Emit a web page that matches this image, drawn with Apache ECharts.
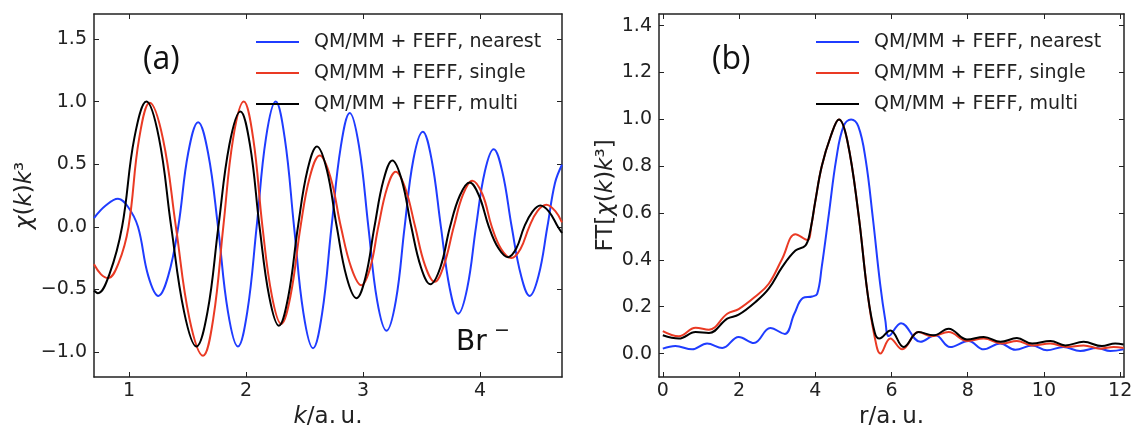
<!DOCTYPE html>
<html>
<head>
<meta charset="utf-8">
<script src="https://cdn.jsdelivr.net/npm/echarts@6/dist/echarts.min.js"></script>
<style>
  html, body { margin: 0; padding: 0; background: #fff; }
  #main { width: 1131px; height: 426px; }
</style>
</head>
<body>
<div id="main"></div>
<script>
// series names + colours (same in both panels)
const names = ['QM/MM + FEFF, nearest', 'QM/MM + FEFF, single', 'QM/MM + FEFF, multi'];
const colors = ['#1f3cff', '#ea3a24', '#000000'];

// ---- panel (a): chi(k) k^3 vs k ----
const aNearestK = [0.70, 0.80, 0.905, 0.99, 1.076, 1.163, 1.25, 1.335, 1.42, 1.505, 1.59, 1.675, 1.76, 1.845, 1.93, 2.01, 2.09, 2.17, 2.253, 2.33, 2.41, 2.49, 2.572, 2.65, 2.73, 2.81, 2.886, 2.965, 3.045, 3.12, 3.20, 3.28, 3.355, 3.43, 3.51, 3.585, 3.665, 3.74, 3.813, 3.89, 3.965, 4.04, 4.116, 4.19, 4.27, 4.35, 4.424, 4.50, 4.575, 4.64, 4.70];
const aNearestV = [0.07, 0.17, 0.224, 0.16, 0, -0.39, -0.552, -0.39, 0, 0.59, 0.836, 0.59, 0, -0.68, -0.957, -0.68, 0, 0.71, 1.0, 0.71, 0, -0.69, -0.97, -0.69, 0, 0.645, 0.91, 0.645, 0, -0.59, -0.83, -0.59, 0, 0.54, 0.76, 0.54, 0, -0.49, -0.694, -0.49, 0, 0.44, 0.62, 0.44, 0, -0.39, -0.552, -0.39, 0, 0.35, 0.496];

const aSingleK = [0.70, 0.76, 0.82, 0.91, 0.995, 1.085, 1.176, 1.29, 1.40, 1.515, 1.632, 1.72, 1.805, 1.89, 1.98, 2.06, 2.14, 2.22, 2.30, 2.38, 2.465, 2.545, 2.629, 2.72, 2.81, 2.90, 2.985, 3.06, 3.13, 3.205, 3.279, 3.36, 3.445, 3.53, 3.612, 3.69, 3.775, 3.855, 3.934, 4.02, 4.10, 4.18, 4.267, 4.345, 4.42, 4.49, 4.566, 4.643, 4.70];
const aSingleV = [-0.30, -0.38, -0.41, -0.29, 0, 0.70, 0.99, 0.70, 0, -0.73, -1.03, -0.73, 0, 0.71, 1.0, 0.71, 0, -0.55, -0.776, -0.55, 0, 0.40, 0.57, 0.40, 0, -0.33, -0.467, -0.33, 0, 0.31, 0.44, 0.31, 0, -0.31, -0.44, -0.31, 0, 0.26, 0.368, 0.26, 0, -0.177, -0.25, -0.177, 0, 0.125, 0.176, 0.125, 0.035];

const aMultiK = [0.70, 0.734, 0.835, 0.94, 1.045, 1.148, 1.255, 1.36, 1.47, 1.575, 1.67, 1.763, 1.857, 1.951, 2.033, 2.115, 2.198, 2.28, 2.36, 2.443, 2.525, 2.606, 2.69, 2.775, 2.86, 2.943, 3.02, 3.097, 3.175, 3.25, 3.33, 3.412, 3.495, 3.575, 3.66, 3.743, 3.827, 3.911, 3.99, 4.075, 4.157, 4.239, 4.31, 4.377, 4.446, 4.515, 4.59, 4.665, 4.70];
const aMultiV = [-0.51, -0.53, -0.37, 0, 0.71, 1.0, 0.71, 0, -0.68, -0.957, -0.68, 0, 0.655, 0.922, 0.655, 0, -0.56, -0.79, -0.56, 0, 0.455, 0.642, 0.455, 0, -0.405, -0.57, -0.405, 0, 0.375, 0.53, 0.375, 0, -0.325, -0.459, -0.325, 0, 0.25, 0.354, 0.25, 0, -0.172, -0.243, -0.172, 0, 0.12, 0.17, 0.12, 0, -0.05];

const aXTicks = [1, 2, 3, 4];
const aYTicks = [-1.0, -0.5, 0.0, 0.5, 1.0, 1.5];

// ---- panel (b): FT magnitude vs r ----
const bNearestR = [0, 0.33, 0.77, 1.16, 1.56, 1.99, 2.39, 2.82, 3.20, 3.45, 3.68, 3.92, 4.05, 4.17, 4.36, 4.55, 4.74, 4.94, 5.13, 5.32, 5.51, 5.70, 5.84, 5.93, 6.25, 6.76, 7.15, 7.54, 8.02, 8.42, 8.85, 9.25, 9.69, 10.08, 10.51, 10.95, 11.39, 11.74, 12.09];
const bNearestV = [0.021, 0.032, 0.018, 0.043, 0.024, 0.071, 0.045, 0.109, 0.084, 0.17, 0.238, 0.244, 0.255, 0.37, 0.60, 0.83, 0.97, 1.0, 0.97, 0.83, 0.58, 0.30, 0.14, 0.075, 0.13, 0.05, 0.078, 0.028, 0.054, 0.018, 0.043, 0.016, 0.035, 0.014, 0.028, 0.011, 0.024, 0.011, 0.018];

const bSingleR = [0, 0.42, 0.86, 1.21, 1.69, 1.99, 2.43, 2.78, 3.13, 3.48, 3.79, 3.90, 4.0, 4.17, 4.41, 4.62, 4.84, 5.13, 5.37, 5.56, 5.71, 5.97, 6.28, 6.71, 7.06, 7.5, 7.98, 8.42, 8.9, 9.29, 9.69, 10.17, 10.6, 11.04, 11.48, 11.83, 12.09];
const bSingleV = [0.096, 0.074, 0.11, 0.102, 0.17, 0.19, 0.244, 0.298, 0.404, 0.51, 0.485, 0.55, 0.65, 0.80, 0.93, 1.0, 0.91, 0.60, 0.26, 0.07, 0.0, 0.064, 0.018, 0.092, 0.074, 0.092, 0.054, 0.064, 0.043, 0.054, 0.035, 0.043, 0.028, 0.035, 0.021, 0.028, 0.024];

const bMultiR = [0, 0.42, 0.86, 1.21, 1.69, 1.99, 2.43, 2.78, 3.13, 3.48, 3.74, 3.85, 4.0, 4.17, 4.41, 4.62, 4.84, 5.13, 5.37, 5.56, 5.68, 5.97, 6.32, 6.71, 7.1, 7.5, 7.98, 8.42, 8.86, 9.29, 9.69, 10.17, 10.56, 11.04, 11.52, 11.87, 12.09];
const bMultiV = [0.078, 0.064, 0.092, 0.088, 0.149, 0.166, 0.22, 0.277, 0.369, 0.44, 0.461, 0.51, 0.65, 0.80, 0.93, 1.0, 0.91, 0.60, 0.26, 0.09, 0.064, 0.099, 0.028, 0.092, 0.078, 0.106, 0.06, 0.071, 0.05, 0.066, 0.043, 0.054, 0.035, 0.05, 0.032, 0.043, 0.039];

const bXTicks = [0, 2, 4, 6, 8, 10, 12];
const bYTicks = [0.0, 0.2, 0.4, 0.6, 0.8, 1.0, 1.2, 1.4];

const zip = (xs, ys) => xs.map((x, i) => [x, ys[i]]);
const fmt = v => v.toFixed(1).replace('-', '\u2212');
const fmtInt = v => String(v);

const tickColor = '#222';
const labelFont = { fontSize: 19, color: '#222', fontFamily: 'DejaVu Sans' };

// axis builder: bottom/left carry labels, top/right only mirror the inward ticks
function axis(grid, pos, min, max, ticks, formatter, extra) {
    const labelled = pos === 'bottom' || pos === 'left';
    return Object.assign({
        type: 'value',
        gridIndex: grid,
        position: pos,
        min: min,
        max: max,
        axisLine: { show: true, onZero: false, lineStyle: { color: tickColor, width: 1.5 } },
        axisTick: { show: true, inside: true, length: 5, customValues: ticks, lineStyle: { color: tickColor, width: 1 } },
        axisLabel: labelled
            ? Object.assign({ show: true, customValues: ticks, formatter: formatter, margin: pos === 'bottom' ? 5 : 7 }, labelFont)
            : { show: false },
        splitLine: { show: false }
    }, extra || {});
}

const nameStyle = {
    fontSize: 23,
    color: '#222',
    fontFamily: 'DejaVu Sans',
    rich: {
        i: { fontSize: 23, fontStyle: 'italic', color: '#222', fontFamily: 'DejaVu Sans' },
        n: { fontSize: 23, color: '#222', fontFamily: 'DejaVu Sans' }
    }
};

const legendBase = {
    data: names, orient: 'vertical', top: 26,
    icon: 'rect', itemWidth: 43, itemHeight: 2, itemGap: 9,
    textStyle: { fontSize: 19, color: '#222', fontFamily: 'DejaVu Sans', lineHeight: 22, padding: [0, 0, 0, 10] }
};

const option = {
    backgroundColor: '#fff',
    animation: false,
    grid: [
        { left: 94, top: 14, width: 468, height: 363, outerBoundsMode: 'none' },
        { left: 659, top: 14, width: 465, height: 363, outerBoundsMode: 'none' }
    ],
    xAxis: [
        axis(0, 'bottom', 0.7, 4.7, aXTicks, fmtInt, {
            name: '{i|k}{n|/a.\u2009u.}', nameLocation: 'middle', nameGap: 20, nameTextStyle: nameStyle
        }),
        axis(0, 'top', 0.7, 4.7, aXTicks),
        axis(1, 'bottom', -0.1, 12.1, bXTicks, fmtInt, {
            name: '{n|r/a.\u2009u.}', nameLocation: 'middle', nameGap: 20, nameTextStyle: nameStyle
        }),
        axis(1, 'top', -0.1, 12.1, bXTicks)
    ],
    yAxis: [
        axis(0, 'left', -1.2, 1.7, aYTicks, fmt, {
            name: '{i|\u03C7}{n|(}{i|k}{n|)}{i|k}{n|\u00B3}', nameLocation: 'middle', nameGap: 52, nameRotate: 90, nameTextStyle: nameStyle
        }),
        axis(0, 'right', -1.2, 1.7, aYTicks),
        axis(1, 'left', -0.1, 1.45, bYTicks, fmt, {
            name: '{n|FT[}{i|\u03C7}{n|(}{i|k}{n|)}{i|k}{n|\u00B3]}', nameLocation: 'middle', nameGap: 37, nameRotate: 90, nameTextStyle: nameStyle
        }),
        axis(1, 'right', -0.1, 1.45, bYTicks)
    ],
    legend: [
        Object.assign({ left: 251 }, legendBase),
        Object.assign({ left: 811 }, legendBase)
    ],
    graphic: [
        { type: 'text', left: 143, top: 44, style: { text: '(a)', fontSize: 32, fontFamily: 'Open Sans', fill: '#111' } },
        { type: 'text', left: 712, top: 44, style: { text: '(b)', fontSize: 32, fontFamily: 'Open Sans', fill: '#111' } },
        { type: 'text', left: 456, top: 329, style: { text: 'Br', fontSize: 28, fontFamily: 'DejaVu Sans', fill: '#111' } },
        { type: 'text', left: 494, top: 322, style: { text: '\u2212', fontSize: 19, fontFamily: 'DejaVu Sans', fill: '#111' } }
    ],
    series: [
        [zip(aNearestK, aNearestV), 0, 0],
        [zip(aSingleK, aSingleV), 1, 0],
        [zip(aMultiK, aMultiV), 2, 0],
        [zip(bNearestR, bNearestV), 0, 2],
        [zip(bSingleR, bSingleV), 1, 2],
        [zip(bMultiR, bMultiV), 2, 2]
    ].map(([data, c, ax]) => ({
        name: names[c],
        type: 'line',
        xAxisIndex: ax,
        yAxisIndex: ax,
        data: data,
        smooth: 0.4,
        showSymbol: false,
        color: colors[c],
        lineStyle: { color: colors[c], width: 2 },
        clip: true
    }))
};

const chart = echarts.init(document.getElementById('main'));
chart.setOption(option);
window.addEventListener('resize', () => chart.resize());
</script>
</body>
</html>
